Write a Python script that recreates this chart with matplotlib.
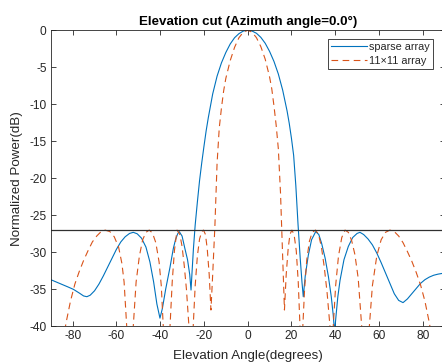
import matplotlib
matplotlib.use('Agg')
import matplotlib.pyplot as plt

plt.rcParams['font.family'] = ['Liberation Sans', 'DejaVu Sans']
plt.rcParams['axes.unicode_minus'] = False

# ---- data ----
sparse_angle = [-90, -86, -82, -79.7, -77, -75, -73.5, -72, -70, -68, -66, -64, -62, -60, -58, -56, -54,
                -52.3, -50.5, -48.5, -46.5, -44.7, -43, -41.5, -40.1, -39, -37.5, -35.5, -34, -33, -32,
                -31.3, -30, -28.7, -27.5, -26.5, -25.9, -25.4, -24.8, -24, -23, -22, -21, -20, -19, -18,
                -16, -14, -12, -10, -8, -6, -4, -2, 0, 2, 4, 6, 8, 10, 12, 14, 16, 18, 19, 20, 21, 22,
                23, 24, 24.8, 25.4, 26.3, 27.7, 29.2, 31.1, 32.5, 33.8, 35.4, 36.9, 38.2, 39.1, 39.7,
                40.3, 41.2, 42.2, 44, 46, 48, 50, 51.3, 53, 55, 57, 59, 61, 63, 65, 67, 69, 71, 73, 75,
                77, 79, 81, 83, 85, 87, 90]
sparse_db = [-33.7, -34.2, -34.7, -35.0, -35.5, -35.9, -36.0, -35.8, -35.2, -34.3, -33.2, -32.0, -30.8,
             -29.6, -28.6, -27.9, -27.45,
             -27.3, -27.5, -28.1, -29.3, -31.3, -34.0, -37.0, -38.9, -37.6, -35.0, -32.0, -29.5, -28.3,
             -27.5,
             -27.2, -27.8, -29.5, -31.0, -33.0, -35.1, -32.5, -29.5, -26.3, -23.2, -20.3, -17.9, -15.7,
             -13.6, -11.8,
             -8.6, -6.2, -4.4, -3.0, -1.85, -1.0, -0.45, -0.1, 0.0, -0.1, -0.4, -0.95, -1.75, -2.85,
             -4.2, -5.9, -8.1, -10.9, -12.6, -14.6, -16.9, -21.0,
             -26.2, -30.8, -34.0, -36.0, -33.2, -30.4, -28.3, -27.2, -27.6, -28.8, -30.8, -33.3, -36.0,
             -38.5, -40.8,
             -38.8, -36.0, -33.8, -31.0, -29.2, -28.0, -27.45, -27.3, -27.6, -28.2, -29.0, -30.1,
             -31.4, -32.8, -34.2, -35.6, -36.5, -36.8, -36.3, -35.6,
             -34.9, -34.2, -33.7, -33.35, -33.1, -32.95, -32.8]

full_angle = [-90, -89, -87, -85, -83, -81, -79, -77, -75, -73, -71, -69, -67, -65.2, -63, -61, -59,
              -57.5, -56.5, -55.3, -54.5, -53.8, -53, -52.3, -51, -49.5, -48, -46.5, -45, -43.5, -42,
              -40.5, -39.5, -38.6, -37.8, -36.9, -36.2, -35.5, -34.5, -33.5, -32.3, -31, -30, -29, -28,
              -27.2, -26.4, -25.6, -24.9, -24, -23, -22, -21, -20.2, -19.3, -18.5, -17.6, -16.8, -16,
              -15, -14, -13, -12, -11, -10, -8, -6, -4, -2, 0, 2, 4, 6, 8, 10, 11, 12, 13, 14, 15,
              15.8, 16.8, 17.6, 18.5, 19.3, 20.2, 21.2, 22.2, 23.1, 23.9, 24.5, 25.2, 26, 27, 28.2,
              29.5, 31, 32.4, 33.7, 35, 36.3, 37.6, 38.3, 39.1, 40.2, 41.5, 43, 44.5, 46, 47.5, 49,
              50.5, 52.1, 53, 53.8, 54.7, 55.6, 57, 59, 61, 63, 65, 67, 69, 71, 73, 75, 77, 79, 81,
              83, 85, 87, 89, 90]
full_db = [-70, -58, -48, -43, -39.5, -36.6, -34.3, -32.6, -31.1, -29.8, -28.6, -27.8, -27.2, -27.0,
           -27.2, -27.9, -29.3,
           -31.5, -34.0, -40, -48, -60, -46, -40, -34, -30.5, -28.3, -27.3, -27.0, -27.4, -28.7,
           -31.3, -34.5, -40, -47, -60, -47, -40, -34, -29.8, -27.0, -27.6, -29.2, -31.8, -35,
           -38.5, -42, -60, -40, -34.5, -30.5, -28.2, -27.2, -27.0, -27.6, -29.5, -33, -37.8, -33,
           -26.5, -18.0, -13.2, -10.5, -8.2, -6.5, -4.1, -2.3, -1.0, -0.25, 0.0, -0.25, -1.0, -2.2,
           -3.9, -6.3, -7.9, -10.2, -12.8, -16.0, -22.0,
           -29, -37.8, -33, -29.5, -27.6, -27.0, -27.6, -29.8, -34, -40, -60, -40, -35, -31, -28.5,
           -27.3, -27.0, -27.6, -29.3, -32, -35.5, -40, -60, -40, -34.5, -30.5, -28, -27.0, -27.3,
           -28.4, -30.3,
           -33.5, -40, -47, -60, -47, -40, -34.5, -30.5, -28.3, -27.3, -27.0, -27.2, -27.8, -28.7,
           -29.9, -31.2, -32.7, -34.4, -36.6,
           -39.5, -43, -48, -58, -70]

sidelobe_level = -27
x_ticks = [-80, -60, -40, -20, 0, 20, 40, 60, 80]
y_ticks = [-40, -35, -30, -25, -20, -15, -10, -5, 0]
series_labels = ['sparse array', '11\u00d711 array']
title_text = 'Elevation cut (Azimuth angle=0.0\u00b0)'
x_label = 'Elevation Angle(degrees)'
y_label = 'Normalized Power(dB)'

assert len(sparse_angle) == len(sparse_db)
assert len(full_angle) == len(full_db)

# ---- drawing ----
axc = '#262626'
fig = plt.figure(figsize=(4.42, 3.63), dpi=100)
ax = fig.add_axes([0.1149, 0.1011, 0.891, 0.8154])

ax.plot(sparse_angle, sparse_db, color='#0072BD', lw=0.8, label=series_labels[0])
ax.plot(full_angle, full_db, color='#D95319', lw=0.8, ls=(0, (6, 4)), label=series_labels[1])
ax.axhline(sidelobe_level, color='#303030', lw=0.9)

ax.set_xlim(-90, 90)
ax.set_ylim(-40, 0)
ax.set_xticks(x_ticks)
ax.set_yticks(y_ticks)
ax.tick_params(direction='in', length=3.5, width=0.6, colors=axc, labelsize=8.6,
               top=True, right=True, pad=3)
for s in ax.spines.values():
    s.set_color(axc)
    s.set_linewidth(0.6)

ax.set_title(title_text, fontsize=9.6, fontweight='bold', color='black', pad=4)
ax.set_xlabel(x_label, fontsize=9.6, color=axc, labelpad=5.5)
ax.set_ylabel(y_label, fontsize=9.6, color=axc, labelpad=4.5)

leg = ax.legend(loc='upper right', bbox_to_anchor=(0.9698, 0.9706), borderaxespad=0,
                fontsize=7.8, fancybox=False, edgecolor=axc, framealpha=1,
                handlelength=3.3, handletextpad=0.16, borderpad=0.3, labelspacing=0.33)
leg.get_frame().set_linewidth(0.6)
for t in leg.get_texts():
    t.set_color(axc)

fig.savefig('out.png', dpi=100)
